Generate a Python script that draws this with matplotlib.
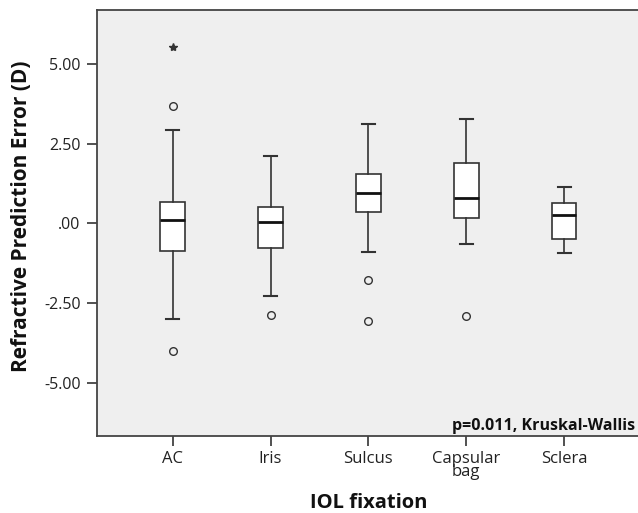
import matplotlib
matplotlib.use("Agg")
from matplotlib import pyplot as plt

# groups and box summaries (dioptres)
groups = ["AC", "Iris", "Sulcus", "Capsular\nbag", "Sclera"]
whisker_low = [-3.01, -2.28, -0.91, -0.65, -0.92]
q1 = [-0.86, -0.78, 0.35, 0.16, -0.48]
median = [0.10, 0.05, 0.96, 0.79, 0.26]
q3 = [0.68, 0.52, 1.55, 1.88, 0.65]
whisker_high = [2.92, 2.11, 3.13, 3.28, 1.13]
outliers = [[3.68, -4.00], [-2.87], [-1.78, -3.05], [-2.90], []]
extremes = [[5.54], [], [], [], []]

yticks = [5.0, 2.5, 0.0, -2.5, -5.0]
ytick_labels = ["5.00", "2.50", ".00", "-2.50", "-5.00"]

plt.rcParams['font.family'] = ['Open Sans', 'DejaVu Sans']

W, H = 638, 513
fig = plt.figure(figsize=(W / 100, H / 100), dpi=100)
ax = fig.add_axes([96.7 / W, 1 - 436 / H, 1 - 96.7 / W + 0.004, (436 - 10.3) / H])
ax.set_facecolor('#efefef')

stats = []
for i in range(len(groups)):
    stats.append({
        'whislo': whisker_low[i], 'q1': q1[i], 'med': median[i],
        'q3': q3[i], 'whishi': whisker_high[i],
        'fliers': outliers[i] + extremes[i],
    })

positions = list(range(1, len(groups) + 1))
ax.bxp(stats, positions=positions, widths=0.25, patch_artist=True, showfliers=False,
       boxprops=dict(facecolor='white', edgecolor='#333333', linewidth=1.2),
       medianprops=dict(color='#111111', linewidth=2.0),
       whiskerprops=dict(color='#333333', linewidth=1.2),
       capprops=dict(color='#333333', linewidth=1.5),
       capwidths=0.13)

# mild outliers as open circles, extremes as stars
for p, vals in zip(positions, outliers):
    if vals:
        ax.plot([p] * len(vals), vals, linestyle='none', marker='o', markersize=5.5,
                markerfacecolor='none', markeredgecolor='#333333', markeredgewidth=1.0)
for p, vals in zip(positions, extremes):
    if vals:
        ax.plot([p] * len(vals), vals, linestyle='none', marker='*', markersize=6,
                color='#333333')

ax.set_xlim(0.224, 5.78)
ax.set_ylim(-6.67, 6.68)
ax.set_xticks(positions)
ax.set_xticklabels(groups, fontsize=12, linespacing=0.8)
ax.set_yticks(yticks)
ax.set_yticklabels(ytick_labels, fontsize=11.5)
ax.tick_params(direction='out', length=7.5, width=1.2, color='#333333', labelcolor='#222222', pad=4)
ax.tick_params(axis='x', pad=3)

for s in ax.spines.values():
    s.set_color('#444444')
    s.set_linewidth(1.3)

fig.text(368.5 / W, 1 - 502.5 / H, 'IOL fixation', ha='center', va='center',
         fontsize=14.5, fontweight='bold', color='#111111')
fig.text(22 / W, 1 - 216.5 / H, 'Refractive Prediction Error (D)', rotation=90,
         ha='center', va='center', fontsize=15, fontweight='bold', color='#111111')

ax.text(452 / W, 1 - 430 / H, 'p=0.011, Kruskal-Wallis', transform=fig.transFigure,
        ha='left', va='baseline', fontsize=11.5, fontweight='bold', color='#111111')

fig.savefig('out.png', dpi=100)
